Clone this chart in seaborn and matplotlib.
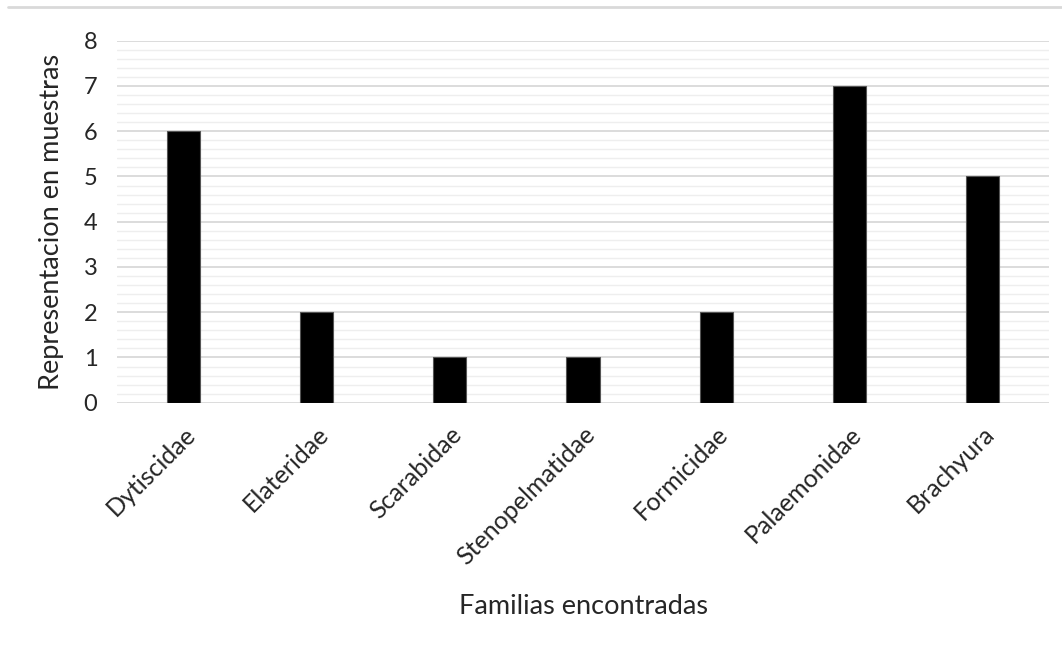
import matplotlib
matplotlib.use("Agg")
import matplotlib.pyplot as plt
import seaborn as sns
import pandas as pd
from matplotlib.lines import Line2D
from matplotlib.ticker import MultipleLocator

# ---- data ----
familias = ["Dytiscidae", "Elateridae", "Scarabidae", "Stenopelmatidae",
            "Formicidae", "Palaemonidae", "Brachyura"]
conteos = [6, 2, 1, 1, 2, 7, 5]

df = pd.DataFrame({"Familia": familias, "Conteo": conteos})

sns.set_style("white")
plt.rcParams["font.family"] = ["Lato", "DejaVu Sans"]

fig = plt.figure(figsize=(10.62, 6.57), dpi=100)
ax = fig.add_axes([0.110, 0.387, 0.878, 0.551])

sns.barplot(data=df, x="Familia", y="Conteo", color="black", width=0.25,
            edgecolor="#555555", linewidth=0.8, ax=ax, zorder=3)

ax.set_ylim(0, 8)
ax.set_xlim(-0.5, len(familias) - 0.5)
ax.yaxis.set_major_locator(MultipleLocator(1))
ax.yaxis.set_minor_locator(MultipleLocator(0.2))
ax.grid(which="major", axis="y", color="#d9d9d9", linewidth=1.3, zorder=0)
ax.grid(which="minor", axis="y", color="#eeeeee", linewidth=1.0, zorder=0)
ax.set_axisbelow(True)
for s in ax.spines.values():
    s.set_visible(False)

ax.tick_params(axis="y", length=0, labelsize=17, colors="#262626", pad=14)
ax.tick_params(axis="x", length=0, labelsize=18, colors="#262626", pad=14)
plt.setp(ax.get_xticklabels(), rotation=45, ha="right", rotation_mode="anchor")

ax.set_xlabel("Familias encontradas", fontsize=19.5, color="#262626")
ax.xaxis.set_label_coords(0.5, -0.5635)
ax.xaxis.label.set_va("center")
ax.set_ylabel("Representacion en muestras", fontsize=19.5, color="#262626")
ax.yaxis.set_label_coords(-0.0697, 0.5)
ax.yaxis.label.set_va("center")

# thin border line at the top of the image
fig.add_artist(Line2D([8 / 1062, 1.0], [1 - 7 / 657, 1 - 7 / 657],
                      transform=fig.transFigure, color="#d9d9d9", linewidth=2))

fig.savefig("out.png", dpi=100, facecolor="white")
